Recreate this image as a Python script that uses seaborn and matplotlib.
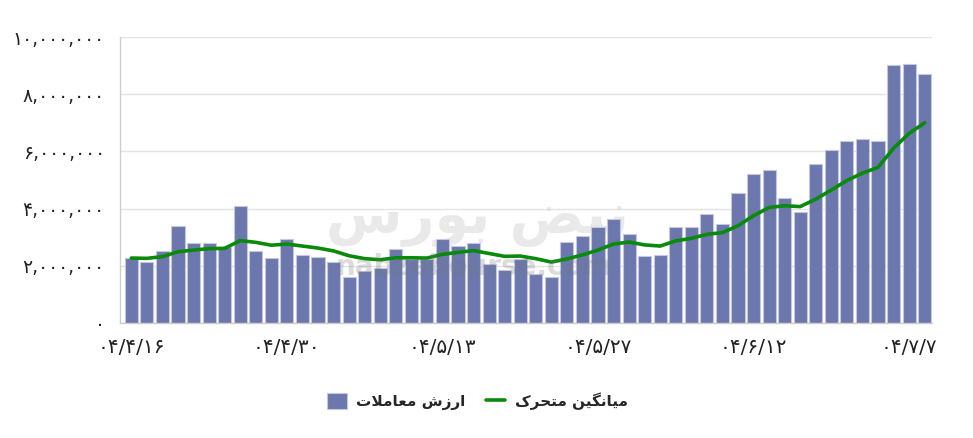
import numpy as np
import pandas as pd
import seaborn as sns
import matplotlib.pyplot as plt

# valeurs (ارزش معاملات, en millions)
valeurs = [2.27, 2.14, 2.50, 3.40, 2.79, 2.79, 2.65, 4.09, 2.50, 2.27,
           2.93, 2.38, 2.30, 2.12, 1.60, 1.83, 1.92, 2.59, 2.23, 2.24,
           2.94, 2.70, 2.79, 2.05, 1.86, 2.25, 1.70, 1.61, 2.84, 3.04,
           3.37, 3.64, 3.11, 2.35, 2.38, 3.35, 3.35, 3.81, 3.46, 4.56,
           5.21, 5.34, 4.38, 3.88, 5.55, 6.06, 6.36, 6.42, 6.37, 9.03,
           9.06, 8.70]
# میانگین متحرک
moyenne = [2.27, 2.26, 2.32, 2.49, 2.55, 2.60, 2.61, 2.88, 2.82, 2.72,
           2.76, 2.69, 2.62, 2.52, 2.35, 2.25, 2.21, 2.28, 2.28, 2.27,
           2.40, 2.47, 2.53, 2.43, 2.33, 2.34, 2.25, 2.13, 2.24, 2.38,
           2.55, 2.76, 2.83, 2.73, 2.69, 2.87, 2.96, 3.10, 3.16, 3.40,
           3.75, 4.04, 4.10, 4.07, 4.33, 4.65, 4.98, 5.24, 5.44, 6.11,
           6.63, 7.00]
pos_ticks = [0, 10, 20, 30, 40, 50]
dates = ['۰۴/۴/۱۶', '۰۴/۴/۳۰', '۰۴/۵/۱۳', '۰۴/۵/۲۷', '۰۴/۶/۱۲', '۰۴/۷/۷']
y_ticks = [0, 2000000, 4000000, 6000000, 8000000, 10000000]

lbl_barres = 'ارزش معاملات'
lbl_ligne = 'میانگین متحرک'
filigrane = 'نبض بورس'

# formes de présentation arabes (isolée, finale, initiale, médiane)
FORMES = {
    'ا': ('\uFE8D', '\uFE8E', None, None),
    'ب': ('\uFE8F', '\uFE90', '\uFE91', '\uFE92'),
    'ت': ('\uFE95', '\uFE96', '\uFE97', '\uFE98'),
    'ح': ('\uFEA1', '\uFEA2', '\uFEA3', '\uFEA4'),
    'ر': ('\uFEAD', '\uFEAE', None, None),
    'ز': ('\uFEAF', '\uFEB0', None, None),
    'س': ('\uFEB1', '\uFEB2', '\uFEB3', '\uFEB4'),
    'ش': ('\uFEB5', '\uFEB6', '\uFEB7', '\uFEB8'),
    'ض': ('\uFEBD', '\uFEBE', '\uFEBF', '\uFEC0'),
    'ع': ('\uFEC9', '\uFECA', '\uFECB', '\uFECC'),
    'ل': ('\uFEDD', '\uFEDE', '\uFEDF', '\uFEE0'),
    'م': ('\uFEE1', '\uFEE2', '\uFEE3', '\uFEE4'),
    'ن': ('\uFEE5', '\uFEE6', '\uFEE7', '\uFEE8'),
    'و': ('\uFEED', '\uFEEE', None, None),
    'ک': ('\uFB8E', '\uFB8F', '\uFB90', '\uFB91'),
    'گ': ('\uFB92', '\uFB93', '\uFB94', '\uFB95'),
    'ی': ('\uFBFC', '\uFBFD', '\uFBFE', '\uFBFF'),
}


def faconner(texte):
    """Forme les lettres et inverse l'ordre (matplotlib ne gère pas le RTL)."""
    out = []
    i = 0
    while i < len(texte):
        c = texte[i]
        if c not in FORMES:
            out.append(c)
            i += 1
            continue
        prev = texte[i - 1] if i > 0 else ''
        lie_avant = prev in FORMES and FORMES[prev][2] is not None
        # ligature lam-alef
        if c == 'ل' and i + 1 < len(texte) and texte[i + 1] == 'ا':
            out.append('\uFEFC' if lie_avant else '\uFEFB')
            i += 2
            continue
        nxt = texte[i + 1] if i + 1 < len(texte) else ''
        lie_apres = nxt in FORMES and FORMES[c][2] is not None
        iso, fin, ini, med = FORMES[c]
        if lie_avant and lie_apres:
            out.append(med)
        elif lie_avant:
            out.append(fin)
        elif lie_apres:
            out.append(ini)
        else:
            out.append(iso)
        i += 1
    return ''.join(out)[::-1]


def chiffres_fa(s):
    return s.translate(str.maketrans('0123456789', '۰۱۲۳۴۵۶۷۸۹'))


df = pd.DataFrame({'jour': np.arange(len(valeurs)),
                   'valeur': np.array(valeurs) * 1e6,
                   'moyenne': np.array(moyenne) * 1e6})

sns.set_style('white')
plt.rcParams['font.family'] = ['DejaVu Sans']

fig = plt.figure(figsize=(9.73, 4.38), dpi=100)
ax = fig.add_axes([0.1233, 0.2626, 0.8350, 0.6529])

sns.barplot(data=df, x='jour', y='valeur', color='#6b77ad', saturation=1,
            width=0.84, edgecolor='#c3c8e0', linewidth=0.8, ax=ax, zorder=2,
            label=faconner(lbl_barres))
ax.plot(df['jour'], df['moyenne'], color='#0a8a0a', lw=2.6, zorder=3,
        label=faconner(lbl_ligne))

ax.set_xlim(-0.73, 51.5)
ax.set_ylim(0, 10000000)
ax.set_yticks(y_ticks)
ax.set_yticklabels([chiffres_fa(f'{v:,}') for v in y_ticks], fontsize=13.5)
ax.set_xticks(pos_ticks)
ax.set_xticklabels(dates, fontsize=14.5)
ax.set_xlabel('')
ax.set_ylabel('')
ax.grid(axis='y', color='#e3e3e3', lw=1, zorder=0)
ax.set_axisbelow(True)
for s in ['top', 'right']:
    ax.spines[s].set_visible(False)
for s in ['left', 'bottom']:
    ax.spines[s].set_color('#cccccc')
    ax.spines[s].set_linewidth(1)
ax.tick_params(axis='both', length=6, color='#cccccc', colors='#222222', pad=5)

# filigrane
ax.text(0.44, 0.36, faconner(filigrane), transform=ax.transAxes,
        fontsize=40, fontweight='bold', color='#d5d5d5', alpha=0.5,
        ha='center', va='center', zorder=1)
ax.text(0.435, 0.195, 'nabzebourse.com', transform=ax.transAxes,
        fontsize=20, fontweight='bold', color='#777777', alpha=0.25,
        ha='center', va='center', zorder=4)

# ordre de la légende : barres puis ligne
handles, labels = ax.get_legend_handles_labels()
ordre = [labels.index(faconner(lbl_barres)), labels.index(faconner(lbl_ligne))]
ax.legend([handles[k] for k in ordre], [labels[k] for k in ordre],
          loc='center', bbox_to_anchor=(0.44, -0.275), ncol=2, frameon=False,
          handlelength=1.3, handleheight=1.2, handletextpad=0.6,
          columnspacing=1.3, prop={'weight': 'bold', 'size': 11})

plt.savefig('out.png', dpi=100)
